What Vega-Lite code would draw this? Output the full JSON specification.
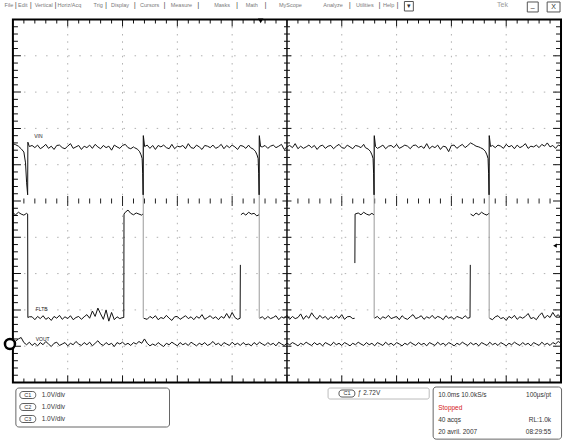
{
"$schema":"https://vega.github.io/schema/vega-lite/v6.json",
"width":564,"height":440,
"autosize":{"type":"fit","contains":"padding"},
"padding":0,
"background":"white",
"config":{"view":{"stroke":null},"axis":{"disable":true},"text":{"font":"Liberation Sans"}},
"datasets":{
"vin":[
{"t":0,"v":1.58},{"t":0.5,"v":1.55},{"t":1.0,"v":1.51},{"t":1.5,"v":1.44},{"t":2.0,"v":1.35},{"t":2.3,"v":1.05},{"t":2.5,"v":0.5},{"t":2.69,"v":0.17},{"t":2.73,"v":1.62},{"t":3.0,"v":1.5},
{"t":3.5,"v":1.53},{"t":4.0,"v":1.47},{"t":4.5,"v":1.54},{"t":5.0,"v":1.44},{"t":5.5,"v":1.49},{"t":6.0,"v":1.56},{"t":6.5,"v":1.45},{"t":7.0,"v":1.51},{"t":7.5,"v":1.42},{"t":8.0,"v":1.53},
{"t":8.5,"v":1.54},{"t":9.0,"v":1.47},{"t":9.5,"v":1.44},{"t":10.0,"v":1.51},{"t":10.5,"v":1.58},{"t":11.0,"v":1.45},{"t":11.5,"v":1.49},{"t":12.0,"v":1.53},{"t":12.5,"v":1.42},{"t":13.0,"v":1.51},
{"t":13.5,"v":1.47},{"t":14.0,"v":1.54},{"t":14.5,"v":1.45},{"t":15.0,"v":1.56},{"t":15.5,"v":1.49},{"t":16.0,"v":1.44},{"t":16.5,"v":1.53},{"t":17.0,"v":1.47},{"t":17.5,"v":1.51},{"t":18.0,"v":1.4},
{"t":18.5,"v":1.54},{"t":19.0,"v":1.49},{"t":19.5,"v":1.45},{"t":20.0,"v":1.53},{"t":20.5,"v":1.56},{"t":21.0,"v":1.47},{"t":21.5,"v":1.44},{"t":22.0,"v":1.49},
{"t":22.18,"v":1.47},{"t":22.68,"v":1.43},{"t":23.08,"v":1.37},{"t":23.38,"v":1.27},{"t":23.58,"v":1.17},{"t":23.68,"v":0.75},{"t":23.76,"v":0.17},{"t":23.8,"v":1.8},{"t":24.03,"v":1.5},
{"t":24.5,"v":1.54},{"t":25.0,"v":1.45},{"t":25.5,"v":1.53},{"t":26.0,"v":1.42},{"t":26.5,"v":1.53},{"t":27.0,"v":1.49},{"t":27.5,"v":1.54},{"t":28.0,"v":1.47},{"t":28.5,"v":1.44},{"t":29.0,"v":1.56},
{"t":29.5,"v":1.44},{"t":30.0,"v":1.51},{"t":30.5,"v":1.49},{"t":31.0,"v":1.53},{"t":31.5,"v":1.44},{"t":32.0,"v":1.58},{"t":32.5,"v":1.47},{"t":33.0,"v":1.45},{"t":33.5,"v":1.54},{"t":34.0,"v":1.49},
{"t":34.5,"v":1.42},{"t":35.0,"v":1.53},{"t":35.5,"v":1.51},{"t":36.0,"v":1.47},{"t":36.5,"v":1.54},{"t":37.0,"v":1.45},{"t":37.5,"v":1.49},{"t":38.0,"v":1.56},{"t":38.5,"v":1.44},{"t":39.0,"v":1.53},
{"t":39.5,"v":1.47},{"t":40.0,"v":1.54},{"t":40.5,"v":1.49},{"t":41.0,"v":1.42},{"t":41.5,"v":1.53},{"t":42.0,"v":1.51},{"t":42.5,"v":1.45},{"t":43.0,"v":1.54},
{"t":43.34,"v":1.47},{"t":43.84,"v":1.43},{"t":44.24,"v":1.37},{"t":44.54,"v":1.27},{"t":44.74,"v":1.17},{"t":44.84,"v":0.75},{"t":44.92,"v":0.17},{"t":44.96,"v":1.8},{"t":45.19,"v":1.5},
{"t":45.5,"v":1.49},{"t":46.0,"v":1.53},{"t":46.5,"v":1.45},{"t":47.0,"v":1.51},{"t":47.5,"v":1.54},{"t":48.0,"v":1.47},{"t":48.5,"v":1.51},{"t":49.0,"v":1.56},{"t":49.5,"v":1.42},{"t":50.0,"v":1.49},
{"t":50.5,"v":1.53},{"t":51.0,"v":1.47},{"t":51.5,"v":1.58},{"t":52.0,"v":1.44},{"t":52.5,"v":1.51},{"t":53.0,"v":1.45},{"t":53.5,"v":1.49},{"t":54.0,"v":1.54},{"t":54.5,"v":1.47},{"t":55.0,"v":1.53},
{"t":55.5,"v":1.42},{"t":56.0,"v":1.51},{"t":56.5,"v":1.54},{"t":57.0,"v":1.45},{"t":57.5,"v":1.51},{"t":58.0,"v":1.53},{"t":58.5,"v":1.44},{"t":59.0,"v":1.51},{"t":59.5,"v":1.56},{"t":60.0,"v":1.47},
{"t":60.5,"v":1.45},{"t":61.0,"v":1.54},{"t":61.5,"v":1.49},{"t":62.0,"v":1.44},{"t":62.5,"v":1.53},{"t":63.0,"v":1.51},{"t":63.5,"v":1.47},{"t":64.0,"v":1.56},
{"t":64.31,"v":1.47},{"t":64.81,"v":1.43},{"t":65.21,"v":1.37},{"t":65.51,"v":1.27},{"t":65.71,"v":1.17},{"t":65.81,"v":0.75},{"t":65.89,"v":0.17},{"t":65.93,"v":1.8},{"t":66.16,"v":1.5},
{"t":66.5,"v":1.45},{"t":67.0,"v":1.49},{"t":67.5,"v":1.54},{"t":68.0,"v":1.44},{"t":68.5,"v":1.51},{"t":69.0,"v":1.53},{"t":69.5,"v":1.47},{"t":70.0,"v":1.56},{"t":70.5,"v":1.45},{"t":71.0,"v":1.49},
{"t":71.5,"v":1.54},{"t":72.0,"v":1.51},{"t":72.5,"v":1.44},{"t":73.0,"v":1.53},{"t":73.5,"v":1.54},{"t":74.0,"v":1.47},{"t":74.5,"v":1.51},{"t":75.0,"v":1.45},{"t":75.5,"v":1.58},{"t":76.0,"v":1.44},
{"t":76.5,"v":1.51},{"t":77.0,"v":1.47},{"t":77.5,"v":1.54},{"t":78.0,"v":1.42},{"t":78.5,"v":1.51},{"t":79.0,"v":1.49},{"t":79.5,"v":1.36},{"t":80.0,"v":1.53},{"t":80.5,"v":1.54},{"t":81.0,"v":1.45},
{"t":81.5,"v":1.51},{"t":82.0,"v":1.56},{"t":82.5,"v":1.47},{"t":83.0,"v":1.53},{"t":83.5,"v":1.6},{"t":84.0,"v":1.56},{"t":84.5,"v":1.51},{"t":85.0,"v":1.49},
{"t":85.29,"v":1.47},{"t":85.79,"v":1.43},{"t":86.19,"v":1.37},{"t":86.49,"v":1.27},{"t":86.69,"v":1.17},{"t":86.79,"v":0.75},{"t":86.87,"v":0.17},{"t":86.91,"v":1.8},{"t":87.14,"v":1.5},
{"t":87.5,"v":1.53},{"t":88.0,"v":1.47},{"t":88.5,"v":1.54},{"t":89.0,"v":1.51},{"t":89.5,"v":1.45},{"t":90.0,"v":1.56},{"t":90.5,"v":1.49},{"t":91.0,"v":1.53},{"t":91.5,"v":1.44},{"t":92.0,"v":1.54},
{"t":92.5,"v":1.47},{"t":93.0,"v":1.51},{"t":93.5,"v":1.58},{"t":94.0,"v":1.45},{"t":94.5,"v":1.51},{"t":95.0,"v":1.49},{"t":95.5,"v":1.54},{"t":96.0,"v":1.47},{"t":96.5,"v":1.56},{"t":97.0,"v":1.51},
{"t":97.5,"v":1.6},{"t":98.0,"v":1.49},{"t":98.5,"v":1.53},{"t":99.0,"v":1.45},{"t":99.5,"v":1.54},{"t":100.0,"v":1.51}
],
"flt":[
{"t":0,"v":-0.33,"g":1},{"t":0.5,"v":-0.38,"g":1},{"t":1.0,"v":-0.31,"g":1},{"t":1.5,"v":-0.36,"g":1},{"t":2.0,"v":-0.39,"g":1},{"t":2.5,"v":-0.34,"g":1},{"t":2.69,"v":-0.36,"g":1},{"t":2.73,"v":-3.21,"g":1},{"t":3.0,"v":-3.19,"g":1},
{"t":3.5,"v":-3.19,"g":1},{"t":4.0,"v":-3.27,"g":1},{"t":4.5,"v":-3.18,"g":1},{"t":5.0,"v":-3.24,"g":1},{"t":5.5,"v":-3.16,"g":1},{"t":6.0,"v":-3.26,"g":1},{"t":6.5,"v":-3.21,"g":1},{"t":7.0,"v":-3.29,"g":1},{"t":7.5,"v":-3.18,"g":1},{"t":8.0,"v":-3.23,"g":1},
{"t":8.5,"v":-3.15,"g":1},{"t":9.0,"v":-3.26,"g":1},{"t":9.5,"v":-3.19,"g":1},{"t":10.0,"v":-3.24,"g":1},{"t":10.5,"v":-3.16,"g":1},{"t":11.0,"v":-3.27,"g":1},{"t":11.5,"v":-3.21,"g":1},{"t":12.0,"v":-3.18,"g":1},{"t":12.5,"v":-3.26,"g":1},{"t":13.0,"v":-3.19,"g":1},
{"t":13.5,"v":-3.13,"g":1},{"t":14.0,"v":-3.23,"g":1},{"t":14.5,"v":-3.03,"g":1},{"t":15.0,"v":-3.18,"g":1},{"t":15.5,"v":-2.95,"g":1},{"t":16.0,"v":-3.11,"g":1},{"t":16.5,"v":-3.26,"g":1},{"t":17.0,"v":-3.0,"g":1},{"t":17.5,"v":-3.31,"g":1},{"t":18.0,"v":-3.07,"g":1},
{"t":18.5,"v":-3.27,"g":1},{"t":19.0,"v":-3.19,"g":1},{"t":19.5,"v":-3.24,"g":1},{"t":20.0,"v":-3.21,"g":1},{"t":20.23,"v":-3.21,"g":1},{"t":20.27,"v":-0.36,"g":1},{"t":20.5,"v":-0.31,"g":1},{"t":21.0,"v":-0.25,"g":1},{"t":21.5,"v":-0.34,"g":1},{"t":22.0,"v":-0.38,"g":1},
{"t":22.5,"v":-0.33,"g":1},{"t":23.0,"v":-0.36,"g":1},{"t":23.5,"v":-0.39,"g":1},{"t":23.7,"v":-0.36,"g":1},
{"t":23.85,"v":-3.23,"g":2},{"t":24.5,"v":-3.26,"g":2},{"t":25.0,"v":-3.18,"g":2},{"t":25.5,"v":-3.23,"g":2},{"t":26.0,"v":-3.16,"g":2},{"t":26.5,"v":-3.27,"g":2},{"t":27.0,"v":-3.21,"g":2},{"t":27.5,"v":-3.24,"g":2},{"t":28.0,"v":-3.15,"g":2},{"t":28.5,"v":-3.23,"g":2},
{"t":29.0,"v":-3.29,"g":2},{"t":29.5,"v":-3.19,"g":2},{"t":30.0,"v":-3.18,"g":2},{"t":30.5,"v":-3.26,"g":2},{"t":31.0,"v":-3.21,"g":2},{"t":31.5,"v":-3.16,"g":2},{"t":32.0,"v":-3.24,"g":2},{"t":32.5,"v":-3.19,"g":2},{"t":33.0,"v":-3.27,"g":2},{"t":33.5,"v":-3.18,"g":2},
{"t":34.0,"v":-3.23,"g":2},{"t":34.5,"v":-3.13,"g":2},{"t":35.0,"v":-3.26,"g":2},{"t":35.5,"v":-3.21,"g":2},{"t":36.0,"v":-3.16,"g":2},{"t":36.5,"v":-3.24,"g":2},{"t":37.0,"v":-3.19,"g":2},{"t":37.5,"v":-3.27,"g":2},{"t":38.0,"v":-3.18,"g":2},{"t":38.5,"v":-3.23,"g":2},
{"t":39.0,"v":-3.1,"g":2},{"t":39.5,"v":-3.23,"g":2},{"t":40.0,"v":-3.07,"g":2},{"t":40.5,"v":-3.21,"g":2},{"t":41.0,"v":-3.26,"g":2},{"t":41.45,"v":-3.23,"g":2},{"t":41.5,"v":-1.76,"g":2},
{"t":41.6,"v":-0.38,"g":3},{"t":42.0,"v":-0.33,"g":3},{"t":42.5,"v":-0.39,"g":3},{"t":43.0,"v":-0.31,"g":3},{"t":43.5,"v":-0.36,"g":3},{"t":44.0,"v":-0.34,"g":3},{"t":44.5,"v":-0.41,"g":3},{"t":44.88,"v":-0.38,"g":3},
{"t":45.0,"v":-3.23,"g":4},{"t":45.5,"v":-3.19,"g":4},{"t":46.0,"v":-3.26,"g":4},{"t":46.5,"v":-3.18,"g":4},{"t":47.0,"v":-3.24,"g":4},{"t":47.5,"v":-3.21,"g":4},{"t":48.0,"v":-3.16,"g":4},{"t":48.5,"v":-3.27,"g":4},{"t":49.0,"v":-3.19,"g":4},{"t":49.5,"v":-3.23,"g":4},
{"t":50.0,"v":-3.15,"g":4},{"t":50.5,"v":-3.26,"g":4},{"t":51.0,"v":-3.18,"g":4},{"t":51.5,"v":-3.24,"g":4},{"t":52.0,"v":-3.21,"g":4},{"t":52.5,"v":-3.11,"g":4},{"t":53.0,"v":-3.26,"g":4},{"t":53.5,"v":-3.16,"g":4},{"t":54.0,"v":-3.23,"g":4},{"t":54.5,"v":-3.08,"g":4},
{"t":55.0,"v":-3.19,"g":4},{"t":55.5,"v":-3.26,"g":4},{"t":56.0,"v":-3.15,"g":4},{"t":56.5,"v":-3.23,"g":4},{"t":57.0,"v":-3.18,"g":4},{"t":57.5,"v":-3.27,"g":4},{"t":58.0,"v":-3.19,"g":4},{"t":58.5,"v":-3.24,"g":4},{"t":59.0,"v":-3.16,"g":4},{"t":59.5,"v":-3.23,"g":4},
{"t":60.0,"v":-3.13,"g":4},{"t":60.5,"v":-3.26,"g":4},{"t":61.0,"v":-3.19,"g":4},{"t":61.5,"v":-3.18,"g":4},{"t":62.0,"v":-3.24,"g":4},{"t":62.35,"v":-3.23,"g":4},
{"t":62.39,"v":-1.71,"g":5},{"t":62.43,"v":-0.36,"g":5},{"t":63.0,"v":-0.33,"g":5},{"t":63.5,"v":-0.38,"g":5},{"t":64.0,"v":-0.31,"g":5},{"t":64.5,"v":-0.36,"g":5},{"t":65.0,"v":-0.39,"g":5},{"t":65.5,"v":-0.34,"g":5},{"t":65.85,"v":-0.38,"g":5},
{"t":65.97,"v":-3.23,"g":6},{"t":66.5,"v":-3.18,"g":6},{"t":67.0,"v":-3.26,"g":6},{"t":67.5,"v":-3.19,"g":6},{"t":68.0,"v":-3.23,"g":6},{"t":68.5,"v":-3.15,"g":6},{"t":69.0,"v":-3.24,"g":6},{"t":69.5,"v":-3.21,"g":6},{"t":70.0,"v":-3.18,"g":6},{"t":70.5,"v":-3.27,"g":6},
{"t":71.0,"v":-3.16,"g":6},{"t":71.5,"v":-3.23,"g":6},{"t":72.0,"v":-3.26,"g":6},{"t":72.5,"v":-3.19,"g":6},{"t":73.0,"v":-3.13,"g":6},{"t":73.5,"v":-3.24,"g":6},{"t":74.0,"v":-3.21,"g":6},{"t":74.5,"v":-3.16,"g":6},{"t":75.0,"v":-3.26,"g":6},{"t":75.5,"v":-3.19,"g":6},
{"t":76.0,"v":-3.23,"g":6},{"t":76.5,"v":-3.15,"g":6},{"t":77.0,"v":-3.24,"g":6},{"t":77.5,"v":-3.18,"g":6},{"t":78.0,"v":-3.21,"g":6},{"t":78.5,"v":-3.27,"g":6},{"t":79.0,"v":-3.16,"g":6},{"t":79.5,"v":-3.23,"g":6},{"t":80.0,"v":-3.19,"g":6},{"t":80.5,"v":-3.26,"g":6},
{"t":81.0,"v":-3.18,"g":6},{"t":81.5,"v":-3.21,"g":6},{"t":82.0,"v":-3.24,"g":6},{"t":82.5,"v":-3.16,"g":6},{"t":83.0,"v":-3.23,"g":6},{"t":83.4,"v":-3.21,"g":6},{"t":83.45,"v":-1.76,"g":6},
{"t":83.5,"v":-0.36,"g":7},{"t":84.0,"v":-0.41,"g":7},{"t":84.5,"v":-0.33,"g":7},{"t":85.0,"v":-0.38,"g":7},{"t":85.5,"v":-0.31,"g":7},{"t":86.0,"v":-0.36,"g":7},{"t":86.5,"v":-0.39,"g":7},{"t":86.83,"v":-0.34,"g":7},
{"t":86.95,"v":-3.23,"g":8},{"t":87.5,"v":-3.27,"g":8},{"t":88.0,"v":-3.19,"g":8},{"t":88.5,"v":-3.16,"g":8},{"t":89.0,"v":-3.24,"g":8},{"t":89.5,"v":-3.21,"g":8},{"t":90.0,"v":-3.29,"g":8},{"t":90.5,"v":-3.18,"g":8},{"t":91.0,"v":-3.23,"g":8},{"t":91.5,"v":-3.15,"g":8},
{"t":92.0,"v":-3.26,"g":8},{"t":92.5,"v":-3.19,"g":8},{"t":93.0,"v":-3.23,"g":8},{"t":93.5,"v":-3.18,"g":8},{"t":94.0,"v":-3.1,"g":8},{"t":94.5,"v":-3.24,"g":8},{"t":95.0,"v":-3.21,"g":8},{"t":95.5,"v":-3.27,"g":8},{"t":96.0,"v":-3.16,"g":8},{"t":96.5,"v":-3.08,"g":8},
{"t":97.0,"v":-3.23,"g":8},{"t":97.5,"v":-3.15,"g":8},{"t":98.0,"v":-3.21,"g":8},{"t":98.5,"v":-3.07,"g":8},{"t":99.0,"v":-3.19,"g":8},{"t":99.5,"v":-3.13,"g":8},{"t":100.0,"v":-3.23,"g":8}
],
"vout":[
{"t":0.4,"v":-3.87},{"t":1.0,"v":-3.8},{"t":1.5,"v":-3.76},{"t":2.0,"v":-3.9},{"t":2.5,"v":-3.96},{"t":3.0,"v":-3.89},{"t":3.5,"v":-3.98},{"t":4.0,"v":-3.92},{"t":4.5,"v":-3.99},{"t":5.0,"v":-3.9},
{"t":5.5,"v":-3.96},{"t":6.0,"v":-3.87},{"t":6.5,"v":-3.94},{"t":7.0,"v":-4.01},{"t":7.5,"v":-3.92},{"t":8.0,"v":-3.89},{"t":8.5,"v":-3.98},{"t":9.0,"v":-3.94},{"t":9.5,"v":-3.9},{"t":10.0,"v":-3.99},
{"t":10.5,"v":-3.92},{"t":11.0,"v":-3.96},{"t":11.5,"v":-3.87},{"t":12.0,"v":-3.94},{"t":12.5,"v":-3.98},{"t":13.0,"v":-3.9},{"t":13.5,"v":-3.96},{"t":14.0,"v":-3.89},{"t":14.5,"v":-3.99},{"t":15.0,"v":-3.92},
{"t":15.5,"v":-3.85},{"t":16.0,"v":-3.94},{"t":16.5,"v":-3.98},{"t":17.0,"v":-3.9},{"t":17.5,"v":-3.96},{"t":18.0,"v":-3.92},{"t":18.5,"v":-4.01},{"t":19.0,"v":-3.9},{"t":19.5,"v":-3.94},{"t":20.0,"v":-3.89},
{"t":20.5,"v":-3.96},{"t":21.0,"v":-3.92},{"t":21.5,"v":-3.98},{"t":22.0,"v":-3.9},{"t":22.5,"v":-3.94},{"t":23.0,"v":-3.87},{"t":23.5,"v":-3.92},{"t":24.0,"v":-3.8},{"t":24.5,"v":-3.92},{"t":25.0,"v":-3.99},
{"t":25.5,"v":-3.94},{"t":26.0,"v":-3.98},{"t":26.5,"v":-3.9},{"t":27.0,"v":-3.96},{"t":27.5,"v":-4.01},{"t":28.0,"v":-3.92},{"t":28.5,"v":-3.96},{"t":29.0,"v":-3.89},{"t":29.5,"v":-3.94},{"t":30.0,"v":-3.99},
{"t":30.5,"v":-3.9},{"t":31.0,"v":-3.96},{"t":31.5,"v":-3.92},{"t":32.0,"v":-3.98},{"t":32.5,"v":-3.89},{"t":33.0,"v":-3.94},{"t":33.5,"v":-3.99},{"t":34.0,"v":-3.92},{"t":34.5,"v":-3.96},{"t":35.0,"v":-3.9},
{"t":35.5,"v":-3.98},{"t":36.0,"v":-3.94},{"t":36.5,"v":-3.87},{"t":37.0,"v":-3.96},{"t":37.5,"v":-3.92},{"t":38.0,"v":-3.99},{"t":38.5,"v":-3.9},{"t":39.0,"v":-3.94},{"t":39.5,"v":-3.98},{"t":40.0,"v":-3.89},
{"t":40.5,"v":-3.96},{"t":41.0,"v":-3.92},{"t":41.5,"v":-3.98},{"t":42.0,"v":-3.9},{"t":42.5,"v":-3.96},{"t":43.0,"v":-3.94},{"t":43.5,"v":-3.99},{"t":44.0,"v":-3.9},{"t":44.5,"v":-3.96},{"t":45.0,"v":-3.89},
{"t":45.5,"v":-3.94},{"t":46.0,"v":-3.98},{"t":46.5,"v":-3.9},{"t":47.0,"v":-3.96},{"t":47.5,"v":-3.92},{"t":48.0,"v":-3.99},{"t":48.5,"v":-3.89},{"t":49.0,"v":-3.94},{"t":49.5,"v":-3.98},{"t":50.0,"v":-3.92},
{"t":50.5,"v":-3.96},{"t":51.0,"v":-3.9},{"t":51.5,"v":-3.94},{"t":52.0,"v":-3.99},{"t":52.5,"v":-3.92},{"t":53.0,"v":-3.96},{"t":53.5,"v":-3.89},{"t":54.0,"v":-3.94},{"t":54.5,"v":-3.98},{"t":55.0,"v":-3.9},
{"t":55.5,"v":-3.96},{"t":56.0,"v":-3.92},{"t":56.5,"v":-3.99},{"t":57.0,"v":-3.9},{"t":57.5,"v":-3.94},{"t":58.0,"v":-3.98},{"t":58.5,"v":-3.89},{"t":59.0,"v":-3.96},{"t":59.5,"v":-3.92},{"t":60.0,"v":-3.98},
{"t":60.5,"v":-3.9},{"t":61.0,"v":-3.94},{"t":61.5,"v":-3.99},{"t":62.0,"v":-3.92},{"t":62.5,"v":-3.96},{"t":63.0,"v":-3.89},{"t":63.5,"v":-3.94},{"t":64.0,"v":-3.98},{"t":64.5,"v":-3.9},{"t":65.0,"v":-3.96},
{"t":65.5,"v":-3.92},{"t":66.0,"v":-3.99},{"t":66.5,"v":-3.9},{"t":67.0,"v":-3.94},{"t":67.5,"v":-3.98},{"t":68.0,"v":-3.89},{"t":68.5,"v":-3.96},{"t":69.0,"v":-3.92},{"t":69.5,"v":-3.98},{"t":70.0,"v":-3.9},
{"t":70.5,"v":-3.94},{"t":71.0,"v":-3.99},{"t":71.5,"v":-3.92},{"t":72.0,"v":-3.96},{"t":72.5,"v":-3.89},{"t":73.0,"v":-3.94},{"t":73.5,"v":-3.98},{"t":74.0,"v":-3.9},{"t":74.5,"v":-3.96},{"t":75.0,"v":-3.92},
{"t":75.5,"v":-3.99},{"t":76.0,"v":-3.9},{"t":76.5,"v":-3.94},{"t":77.0,"v":-3.98},{"t":77.5,"v":-3.89},{"t":78.0,"v":-3.96},{"t":78.5,"v":-3.92},{"t":79.0,"v":-3.98},{"t":79.5,"v":-3.9},{"t":80.0,"v":-3.94},
{"t":80.5,"v":-3.99},{"t":81.0,"v":-3.92},{"t":81.5,"v":-3.96},{"t":82.0,"v":-3.89},{"t":82.5,"v":-3.94},{"t":83.0,"v":-3.98},{"t":83.5,"v":-3.9},{"t":84.0,"v":-3.96},{"t":84.5,"v":-3.92},{"t":85.0,"v":-3.99},
{"t":85.5,"v":-3.9},{"t":86.0,"v":-3.94},{"t":86.5,"v":-3.98},{"t":87.0,"v":-3.89},{"t":87.5,"v":-3.96},{"t":88.0,"v":-3.92},{"t":88.5,"v":-3.98},{"t":89.0,"v":-3.9},{"t":89.5,"v":-3.94},{"t":90.0,"v":-3.99},
{"t":90.5,"v":-3.92},{"t":91.0,"v":-3.96},{"t":91.5,"v":-3.89},{"t":92.0,"v":-3.94},{"t":92.5,"v":-3.98},{"t":93.0,"v":-3.9},{"t":93.5,"v":-3.96},{"t":94.0,"v":-3.92},{"t":94.5,"v":-3.99},{"t":95.0,"v":-3.9},
{"t":95.5,"v":-3.94},{"t":96.0,"v":-3.98},{"t":96.5,"v":-3.89},{"t":97.0,"v":-3.96},{"t":97.5,"v":-3.92},{"t":98.0,"v":-3.98},{"t":98.5,"v":-3.9},{"t":99.0,"v":-3.94},{"t":99.5,"v":-3.87},{"t":100.0,"v":-3.92}
],
"edges":[{"t":23.78,"v":-3.22,"v2":1.8},{"t":44.94,"v":-3.22,"v2":1.76},{"t":65.91,"v":-3.22,"v2":1.76},{"t":86.89,"v":-3.22,"v2":1.8}],
"grid":[
{"t":10,"v":5,"v2":-5,"k":"v"},{"t":20,"v":5,"v2":-5,"k":"v"},{"t":30,"v":5,"v2":-5,"k":"v"},{"t":40,"v":5,"v2":-5,"k":"v"},{"t":60,"v":5,"v2":-5,"k":"v"},{"t":70,"v":5,"v2":-5,"k":"v"},{"t":80,"v":5,"v2":-5,"k":"v"},{"t":90,"v":5,"v2":-5,"k":"v"},
{"t":50,"v":5,"v2":-5,"k":"c"},
{"t":0,"t2":100,"v":-4,"k":"h"},{"t":0,"t2":100,"v":-3,"k":"h"},{"t":0,"t2":100,"v":-2,"k":"h"},{"t":0,"t2":100,"v":-1,"k":"h"},{"t":0,"t2":100,"v":1,"k":"h"},{"t":0,"t2":100,"v":2,"k":"h"},{"t":0,"t2":100,"v":3,"k":"h"},{"t":0,"t2":100,"v":4,"k":"h"}
],
"tx":[
{"t":2,"v":5,"m":0},{"t":2,"v":-5,"m":0},{"t":2,"v":0,"m":0},{"t":4,"v":5,"m":0},{"t":4,"v":-5,"m":0},{"t":4,"v":0,"m":0},{"t":6,"v":5,"m":0},{"t":6,"v":-5,"m":0},{"t":6,"v":0,"m":0},{"t":8,"v":5,"m":0},{"t":8,"v":-5,"m":0},{"t":8,"v":0,"m":0},
{"t":10,"v":5,"m":1},{"t":10,"v":-5,"m":1},{"t":10,"v":0,"m":1},{"t":12,"v":5,"m":0},{"t":12,"v":-5,"m":0},{"t":12,"v":0,"m":0},{"t":14,"v":5,"m":0},{"t":14,"v":-5,"m":0},{"t":14,"v":0,"m":0},{"t":16,"v":5,"m":0},{"t":16,"v":-5,"m":0},{"t":16,"v":0,"m":0},{"t":18,"v":5,"m":0},{"t":18,"v":-5,"m":0},{"t":18,"v":0,"m":0},
{"t":20,"v":5,"m":1},{"t":20,"v":-5,"m":1},{"t":20,"v":0,"m":1},{"t":22,"v":5,"m":0},{"t":22,"v":-5,"m":0},{"t":22,"v":0,"m":0},{"t":24,"v":5,"m":0},{"t":24,"v":-5,"m":0},{"t":24,"v":0,"m":0},{"t":26,"v":5,"m":0},{"t":26,"v":-5,"m":0},{"t":26,"v":0,"m":0},{"t":28,"v":5,"m":0},{"t":28,"v":-5,"m":0},{"t":28,"v":0,"m":0},
{"t":30,"v":5,"m":1},{"t":30,"v":-5,"m":1},{"t":30,"v":0,"m":1},{"t":32,"v":5,"m":0},{"t":32,"v":-5,"m":0},{"t":32,"v":0,"m":0},{"t":34,"v":5,"m":0},{"t":34,"v":-5,"m":0},{"t":34,"v":0,"m":0},{"t":36,"v":5,"m":0},{"t":36,"v":-5,"m":0},{"t":36,"v":0,"m":0},{"t":38,"v":5,"m":0},{"t":38,"v":-5,"m":0},{"t":38,"v":0,"m":0},
{"t":40,"v":5,"m":1},{"t":40,"v":-5,"m":1},{"t":40,"v":0,"m":1},{"t":42,"v":5,"m":0},{"t":42,"v":-5,"m":0},{"t":42,"v":0,"m":0},{"t":44,"v":5,"m":0},{"t":44,"v":-5,"m":0},{"t":44,"v":0,"m":0},{"t":46,"v":5,"m":0},{"t":46,"v":-5,"m":0},{"t":46,"v":0,"m":0},{"t":48,"v":5,"m":0},{"t":48,"v":-5,"m":0},{"t":48,"v":0,"m":0},
{"t":50,"v":5,"m":1},{"t":50,"v":-5,"m":1},{"t":50,"v":0,"m":1},{"t":52,"v":5,"m":0},{"t":52,"v":-5,"m":0},{"t":52,"v":0,"m":0},{"t":54,"v":5,"m":0},{"t":54,"v":-5,"m":0},{"t":54,"v":0,"m":0},{"t":56,"v":5,"m":0},{"t":56,"v":-5,"m":0},{"t":56,"v":0,"m":0},{"t":58,"v":5,"m":0},{"t":58,"v":-5,"m":0},{"t":58,"v":0,"m":0},
{"t":60,"v":5,"m":1},{"t":60,"v":-5,"m":1},{"t":60,"v":0,"m":1},{"t":62,"v":5,"m":0},{"t":62,"v":-5,"m":0},{"t":62,"v":0,"m":0},{"t":64,"v":5,"m":0},{"t":64,"v":-5,"m":0},{"t":64,"v":0,"m":0},{"t":66,"v":5,"m":0},{"t":66,"v":-5,"m":0},{"t":66,"v":0,"m":0},{"t":68,"v":5,"m":0},{"t":68,"v":-5,"m":0},{"t":68,"v":0,"m":0},
{"t":70,"v":5,"m":1},{"t":70,"v":-5,"m":1},{"t":70,"v":0,"m":1},{"t":72,"v":5,"m":0},{"t":72,"v":-5,"m":0},{"t":72,"v":0,"m":0},{"t":74,"v":5,"m":0},{"t":74,"v":-5,"m":0},{"t":74,"v":0,"m":0},{"t":76,"v":5,"m":0},{"t":76,"v":-5,"m":0},{"t":76,"v":0,"m":0},{"t":78,"v":5,"m":0},{"t":78,"v":-5,"m":0},{"t":78,"v":0,"m":0},
{"t":80,"v":5,"m":1},{"t":80,"v":-5,"m":1},{"t":80,"v":0,"m":1},{"t":82,"v":5,"m":0},{"t":82,"v":-5,"m":0},{"t":82,"v":0,"m":0},{"t":84,"v":5,"m":0},{"t":84,"v":-5,"m":0},{"t":84,"v":0,"m":0},{"t":86,"v":5,"m":0},{"t":86,"v":-5,"m":0},{"t":86,"v":0,"m":0},{"t":88,"v":5,"m":0},{"t":88,"v":-5,"m":0},{"t":88,"v":0,"m":0},
{"t":90,"v":5,"m":1},{"t":90,"v":-5,"m":1},{"t":90,"v":0,"m":1},{"t":92,"v":5,"m":0},{"t":92,"v":-5,"m":0},{"t":92,"v":0,"m":0},{"t":94,"v":5,"m":0},{"t":94,"v":-5,"m":0},{"t":94,"v":0,"m":0},{"t":96,"v":5,"m":0},{"t":96,"v":-5,"m":0},{"t":96,"v":0,"m":0},{"t":98,"v":5,"m":0},{"t":98,"v":-5,"m":0},{"t":98,"v":0,"m":0}
],
"ty":[
{"v":-4.8,"t":0,"m":0},{"v":-4.8,"t":100,"m":0},{"v":-4.8,"t":50,"m":0},{"v":-4.6,"t":0,"m":0},{"v":-4.6,"t":100,"m":0},{"v":-4.6,"t":50,"m":0},{"v":-4.4,"t":0,"m":0},{"v":-4.4,"t":100,"m":0},{"v":-4.4,"t":50,"m":0},{"v":-4.2,"t":0,"m":0},{"v":-4.2,"t":100,"m":0},{"v":-4.2,"t":50,"m":0},
{"v":-4,"t":0,"m":1},{"v":-4,"t":100,"m":1},{"v":-4,"t":50,"m":1},{"v":-3.8,"t":0,"m":0},{"v":-3.8,"t":100,"m":0},{"v":-3.8,"t":50,"m":0},{"v":-3.6,"t":0,"m":0},{"v":-3.6,"t":100,"m":0},{"v":-3.6,"t":50,"m":0},{"v":-3.4,"t":0,"m":0},{"v":-3.4,"t":100,"m":0},{"v":-3.4,"t":50,"m":0},{"v":-3.2,"t":0,"m":0},{"v":-3.2,"t":100,"m":0},{"v":-3.2,"t":50,"m":0},
{"v":-3,"t":0,"m":1},{"v":-3,"t":100,"m":1},{"v":-3,"t":50,"m":1},{"v":-2.8,"t":0,"m":0},{"v":-2.8,"t":100,"m":0},{"v":-2.8,"t":50,"m":0},{"v":-2.6,"t":0,"m":0},{"v":-2.6,"t":100,"m":0},{"v":-2.6,"t":50,"m":0},{"v":-2.4,"t":0,"m":0},{"v":-2.4,"t":100,"m":0},{"v":-2.4,"t":50,"m":0},{"v":-2.2,"t":0,"m":0},{"v":-2.2,"t":100,"m":0},{"v":-2.2,"t":50,"m":0},
{"v":-2,"t":0,"m":1},{"v":-2,"t":100,"m":1},{"v":-2,"t":50,"m":1},{"v":-1.8,"t":0,"m":0},{"v":-1.8,"t":100,"m":0},{"v":-1.8,"t":50,"m":0},{"v":-1.6,"t":0,"m":0},{"v":-1.6,"t":100,"m":0},{"v":-1.6,"t":50,"m":0},{"v":-1.4,"t":0,"m":0},{"v":-1.4,"t":100,"m":0},{"v":-1.4,"t":50,"m":0},{"v":-1.2,"t":0,"m":0},{"v":-1.2,"t":100,"m":0},{"v":-1.2,"t":50,"m":0},
{"v":-1,"t":0,"m":1},{"v":-1,"t":100,"m":1},{"v":-1,"t":50,"m":1},{"v":-0.8,"t":0,"m":0},{"v":-0.8,"t":100,"m":0},{"v":-0.8,"t":50,"m":0},{"v":-0.6,"t":0,"m":0},{"v":-0.6,"t":100,"m":0},{"v":-0.6,"t":50,"m":0},{"v":-0.4,"t":0,"m":0},{"v":-0.4,"t":100,"m":0},{"v":-0.4,"t":50,"m":0},{"v":-0.2,"t":0,"m":0},{"v":-0.2,"t":100,"m":0},{"v":-0.2,"t":50,"m":0},
{"v":0,"t":0,"m":1},{"v":0,"t":100,"m":1},{"v":0,"t":50,"m":1},{"v":0.2,"t":0,"m":0},{"v":0.2,"t":100,"m":0},{"v":0.2,"t":50,"m":0},{"v":0.4,"t":0,"m":0},{"v":0.4,"t":100,"m":0},{"v":0.4,"t":50,"m":0},{"v":0.6,"t":0,"m":0},{"v":0.6,"t":100,"m":0},{"v":0.6,"t":50,"m":0},{"v":0.8,"t":0,"m":0},{"v":0.8,"t":100,"m":0},{"v":0.8,"t":50,"m":0},
{"v":1,"t":0,"m":1},{"v":1,"t":100,"m":1},{"v":1,"t":50,"m":1},{"v":1.2,"t":0,"m":0},{"v":1.2,"t":100,"m":0},{"v":1.2,"t":50,"m":0},{"v":1.4,"t":0,"m":0},{"v":1.4,"t":100,"m":0},{"v":1.4,"t":50,"m":0},{"v":1.6,"t":0,"m":0},{"v":1.6,"t":100,"m":0},{"v":1.6,"t":50,"m":0},{"v":1.8,"t":0,"m":0},{"v":1.8,"t":100,"m":0},{"v":1.8,"t":50,"m":0},
{"v":2,"t":0,"m":1},{"v":2,"t":100,"m":1},{"v":2,"t":50,"m":1},{"v":2.2,"t":0,"m":0},{"v":2.2,"t":100,"m":0},{"v":2.2,"t":50,"m":0},{"v":2.4,"t":0,"m":0},{"v":2.4,"t":100,"m":0},{"v":2.4,"t":50,"m":0},{"v":2.6,"t":0,"m":0},{"v":2.6,"t":100,"m":0},{"v":2.6,"t":50,"m":0},{"v":2.8,"t":0,"m":0},{"v":2.8,"t":100,"m":0},{"v":2.8,"t":50,"m":0},
{"v":3,"t":0,"m":1},{"v":3,"t":100,"m":1},{"v":3,"t":50,"m":1},{"v":3.2,"t":0,"m":0},{"v":3.2,"t":100,"m":0},{"v":3.2,"t":50,"m":0},{"v":3.4,"t":0,"m":0},{"v":3.4,"t":100,"m":0},{"v":3.4,"t":50,"m":0},{"v":3.6,"t":0,"m":0},{"v":3.6,"t":100,"m":0},{"v":3.6,"t":50,"m":0},{"v":3.8,"t":0,"m":0},{"v":3.8,"t":100,"m":0},{"v":3.8,"t":50,"m":0},
{"v":4,"t":0,"m":1},{"v":4,"t":100,"m":1},{"v":4,"t":50,"m":1},{"v":4.2,"t":0,"m":0},{"v":4.2,"t":100,"m":0},{"v":4.2,"t":50,"m":0},{"v":4.4,"t":0,"m":0},{"v":4.4,"t":100,"m":0},{"v":4.4,"t":50,"m":0},{"v":4.6,"t":0,"m":0},{"v":4.6,"t":100,"m":0},{"v":4.6,"t":50,"m":0},{"v":4.8,"t":0,"m":0},{"v":4.8,"t":100,"m":0},{"v":4.8,"t":50,"m":0}
],
"boxes":[
{"t":0.54,"t2":28.57,"v":-5.152,"v2":-6.226,"k":"panel"},
{"t":76.67,"t2":100.1,"v":-5.124,"v2":-6.56,"k":"panel"},
{"t":57.5,"t2":75.95,"v":-5.152,"v2":-5.455,"k":"trig"},
{"t":1.27,"t2":4.16,"v":-5.248,"v2":-5.441,"k":"badge"},
{"t":1.27,"t2":4.16,"v":-5.579,"v2":-5.771,"k":"badge"},
{"t":1.27,"t2":4.16,"v":-5.909,"v2":-6.102,"k":"badge"},
{"t":59.49,"t2":62.39,"v":-5.207,"v2":-5.4,"k":"badge"},
{"t":71.43,"t2":73.06,"v":5.496,"v2":5.234,"k":"btn"},
{"t":93.85,"t2":95.84,"v":5.482,"v2":5.207,"k":"btn"},
{"t":97.47,"t2":99.82,"v":5.482,"v2":5.207,"k":"btn"}
],
"labels":[
{"t":-0.72,"v":5.386,"s":"File","k":"m"},{"t":0.54,"v":5.386,"s":"|","k":"sep"},
{"t":1.81,"v":5.386,"s":"Edit","k":"m"},{"t":3.25,"v":5.386,"s":"|","k":"sep"},
{"t":5.61,"v":5.386,"s":"Vertical","k":"m"},{"t":7.78,"v":5.386,"s":"|","k":"sep"},
{"t":10.31,"v":5.386,"s":"Horiz/Acq","k":"m"},
{"t":15.55,"v":5.386,"s":"Trig","k":"m"},{"t":17.0,"v":5.386,"s":"|","k":"sep"},
{"t":19.53,"v":5.386,"s":"Display","k":"m"},{"t":22.24,"v":5.386,"s":"|","k":"sep"},
{"t":24.95,"v":5.386,"s":"Cursors","k":"m"},{"t":27.67,"v":5.386,"s":"|","k":"sep"},
{"t":30.74,"v":5.386,"s":"Measure","k":"m"},{"t":33.82,"v":5.386,"s":"|","k":"sep"},
{"t":38.16,"v":5.386,"s":"Masks","k":"m"},{"t":40.87,"v":5.386,"s":"|","k":"sep"},
{"t":43.58,"v":5.386,"s":"Math","k":"m"},{"t":46.11,"v":5.386,"s":"|","k":"sep"},
{"t":50.63,"v":5.386,"s":"MyScope","k":"m"},
{"t":58.41,"v":5.386,"s":"Analyze","k":"m"},{"t":61.48,"v":5.386,"s":"|","k":"sep"},
{"t":64.2,"v":5.386,"s":"Utilities","k":"m"},{"t":66.91,"v":5.386,"s":"|","k":"sep"},
{"t":68.54,"v":5.386,"s":"Help","k":"m"},{"t":70.16,"v":5.386,"s":"|","k":"sep"},
{"t":72.24,"v":5.37,"s":"▾","k":"btn"},
{"t":89.33,"v":5.386,"s":"Tek","k":"tek"},
{"t":94.85,"v":5.4,"s":"_","k":"btn"},
{"t":98.64,"v":5.35,"s":"X","k":"btn"},
{"t":3.9,"v":1.79,"s":"VIN","k":"tr"},
{"t":4.16,"v":-2.975,"s":"FLTB","k":"tr"},
{"t":4.16,"v":-3.8,"s":"VOUT","k":"tr"},
{"t":2.71,"v":-5.344,"s":"C1","k":"b"},
{"t":2.71,"v":-5.675,"s":"C2","k":"b"},
{"t":2.71,"v":-6.006,"s":"C3","k":"b"},
{"t":60.94,"v":-5.303,"s":"C1","k":"b"},
{"t":5.24,"v":-5.344,"s":"1.0V/div","k":"pl"},
{"t":5.24,"v":-5.675,"s":"1.0V/div","k":"pl"},
{"t":5.24,"v":-6.006,"s":"1.0V/div","k":"pl"},
{"t":62.93,"v":-5.303,"s":"ƒ 2.72V","k":"pl"},
{"t":77.58,"v":-5.344,"s":"10.0ms  10.0kS/s","k":"pl"},
{"t":98.19,"v":-5.344,"s":"100µs/pt","k":"pr"},
{"t":77.58,"v":-5.702,"s":"Stopped","k":"red"},
{"t":77.58,"v":-6.033,"s":"40 acqs","k":"pl"},
{"t":98.19,"v":-6.033,"s":"RL:1.0k","k":"pr"},
{"t":77.58,"v":-6.364,"s":"20 avril. 2007","k":"pl"},
{"t":98.19,"v":-6.364,"s":"08:29:55","k":"pr"}
],
"pts":[{"t":-0.54,"v":-3.94,"k":"ch"},{"t":45.2,"v":4.96,"k":"trigpos"},{"t":98.9,"v":-1.23,"k":"triglvl"}]
},
"encoding":{
"x":{"field":"t","type":"quantitative","scale":{"domain":[-1.808,100.18],"nice":false,"zero":false},"axis":null},
"y":{"field":"v","type":"quantitative","scale":{"domain":[-6.584,5.537],"nice":false,"zero":false},"axis":null}
},
"layer":[
{"data":{"name":"grid"},"transform":[{"filter":"datum.k == 'v'"}],"mark":{"type":"rule","color":"#b0b0b0","strokeWidth":1,"strokeDash":[1.5,5.76]},"encoding":{"y2":{"field":"v2"}}},
{"data":{"name":"grid"},"transform":[{"filter":"datum.k == 'h'"}],"mark":{"type":"rule","color":"#b0b0b0","strokeWidth":1,"strokeDash":[1.5,9.56]},"encoding":{"x2":{"field":"t2"}}},
{"data":{"name":"grid"},"transform":[{"filter":"datum.k == 'c'"}],"mark":{"type":"rule","color":"#111","strokeWidth":1.5},"encoding":{"y2":{"field":"v2"}}},
{"data":{"name":"tx"},"transform":[{"filter":"datum.v == 5 && datum.m == 0"}],"mark":{"type":"tick","orient":"vertical","size":4,"thickness":1,"yOffset":2,"color":"#111","opacity":1}},
{"data":{"name":"tx"},"transform":[{"filter":"datum.v == 5 && datum.m == 1"}],"mark":{"type":"tick","orient":"vertical","size":7,"thickness":1,"yOffset":3.5,"color":"#111","opacity":1}},
{"data":{"name":"tx"},"transform":[{"filter":"datum.v == -5 && datum.m == 0"}],"mark":{"type":"tick","orient":"vertical","size":4,"thickness":1,"yOffset":-2,"color":"#111","opacity":1}},
{"data":{"name":"tx"},"transform":[{"filter":"datum.v == -5 && datum.m == 1"}],"mark":{"type":"tick","orient":"vertical","size":7,"thickness":1,"yOffset":-3.5,"color":"#111","opacity":1}},
{"data":{"name":"tx"},"transform":[{"filter":"datum.v == 0 && datum.m == 0"}],"mark":{"type":"tick","orient":"vertical","size":5,"thickness":1,"color":"#222","opacity":1}},
{"data":{"name":"tx"},"transform":[{"filter":"datum.v == 0 && datum.m == 1"}],"mark":{"type":"tick","orient":"vertical","size":10,"thickness":1,"color":"#222","opacity":1}},
{"data":{"name":"ty"},"transform":[{"filter":"datum.t == 0 && datum.m == 0"}],"mark":{"type":"tick","orient":"horizontal","size":5,"thickness":1,"xOffset":2.5,"color":"#111","opacity":1}},
{"data":{"name":"ty"},"transform":[{"filter":"datum.t == 0 && datum.m == 1"}],"mark":{"type":"tick","orient":"horizontal","size":8,"thickness":1,"xOffset":4,"color":"#111","opacity":1}},
{"data":{"name":"ty"},"transform":[{"filter":"datum.t == 100 && datum.m == 0"}],"mark":{"type":"tick","orient":"horizontal","size":5,"thickness":1,"xOffset":-2.5,"color":"#111","opacity":1}},
{"data":{"name":"ty"},"transform":[{"filter":"datum.t == 100 && datum.m == 1"}],"mark":{"type":"tick","orient":"horizontal","size":8,"thickness":1,"xOffset":-4,"color":"#111","opacity":1}},
{"data":{"name":"ty"},"transform":[{"filter":"datum.t == 50 && datum.m == 0"}],"mark":{"type":"tick","orient":"horizontal","size":6,"thickness":1,"color":"#111","opacity":1}},
{"data":{"name":"ty"},"transform":[{"filter":"datum.t == 50 && datum.m == 1"}],"mark":{"type":"tick","orient":"horizontal","size":9,"thickness":1,"color":"#111","opacity":1}},
{"data":{"values":[{"t":0,"t2":100,"v":-5,"v2":5}]},"mark":{"type":"rect","fillOpacity":0,"stroke":"#000","strokeWidth":2},"encoding":{"x2":{"field":"t2"},"y2":{"field":"v2"}}},
{"data":{"name":"edges"},"mark":{"type":"rule","color":"#9a9a9a","strokeWidth":1},"encoding":{"y2":{"field":"v2"}}},
{"data":{"name":"flt"},"mark":{"type":"line","color":"#111","strokeWidth":1},"encoding":{"detail":{"field":"g","type":"nominal"}}},
{"data":{"name":"vin"},"mark":{"type":"line","color":"#111","strokeWidth":1},"encoding":{}},
{"data":{"name":"vout"},"mark":{"type":"line","color":"#111","strokeWidth":1},"encoding":{}},
{"data":{"name":"boxes"},"transform":[{"filter":"datum.k == 'panel'"}],"mark":{"type":"rect","fill":"white","stroke":"#666","strokeWidth":1,"cornerRadius":3},"encoding":{"x2":{"field":"t2"},"y2":{"field":"v2"}}},
{"data":{"name":"boxes"},"transform":[{"filter":"datum.k == 'trig'"}],"mark":{"type":"rect","fill":"white","stroke":"#aaa","strokeWidth":0.8,"cornerRadius":2},"encoding":{"x2":{"field":"t2"},"y2":{"field":"v2"}}},
{"data":{"name":"boxes"},"transform":[{"filter":"datum.k == 'badge'"}],"mark":{"type":"rect","fill":"white","stroke":"#333","strokeWidth":0.8,"cornerRadius":3},"encoding":{"x2":{"field":"t2"},"y2":{"field":"v2"}}},
{"data":{"name":"boxes"},"transform":[{"filter":"datum.k == 'btn'"}],"mark":{"type":"rect","fill":"white","stroke":"#555","strokeWidth":1},"encoding":{"x2":{"field":"t2"},"y2":{"field":"v2"}}},
{"data":{"name":"labels"},"transform":[{"filter":"datum.k == 'm'"}],"mark":{"type":"text","fontSize":5.5,"fill":"#7a7a7a","align":"center","baseline":"middle"},"encoding":{"text":{"field":"s"}}},
{"data":{"name":"labels"},"transform":[{"filter":"datum.k == 'sep'"}],"mark":{"type":"text","fontSize":8,"fill":"#555555","align":"center","baseline":"middle"},"encoding":{"text":{"field":"s"}}},
{"data":{"name":"labels"},"transform":[{"filter":"datum.k == 'btn'"}],"mark":{"type":"text","fontSize":7,"fill":"#333333","align":"center","baseline":"middle"},"encoding":{"text":{"field":"s"}}},
{"data":{"name":"labels"},"transform":[{"filter":"datum.k == 'tek'"}],"mark":{"type":"text","fontSize":7,"fill":"#9a9a9a","align":"center","baseline":"middle"},"encoding":{"text":{"field":"s"}}},
{"data":{"name":"labels"},"transform":[{"filter":"datum.k == 'tr'"}],"mark":{"type":"text","fontSize":5,"fill":"#222222","align":"left","baseline":"middle"},"encoding":{"text":{"field":"s"}}},
{"data":{"name":"labels"},"transform":[{"filter":"datum.k == 'b'"}],"mark":{"type":"text","fontSize":5.5,"fill":"#333333","align":"center","baseline":"middle"},"encoding":{"text":{"field":"s"}}},
{"data":{"name":"labels"},"transform":[{"filter":"datum.k == 'pl'"}],"mark":{"type":"text","fontSize":6.5,"fill":"#333333","align":"left","baseline":"middle"},"encoding":{"text":{"field":"s"}}},
{"data":{"name":"labels"},"transform":[{"filter":"datum.k == 'pr'"}],"mark":{"type":"text","fontSize":6.5,"fill":"#333333","align":"right","baseline":"middle"},"encoding":{"text":{"field":"s"}}},
{"data":{"name":"labels"},"transform":[{"filter":"datum.k == 'red'"}],"mark":{"type":"text","fontSize":6.5,"fill":"#d42020","align":"left","baseline":"middle"},"encoding":{"text":{"field":"s"}}},
{"data":{"name":"pts"},"transform":[{"filter":"datum.k == 'ch'"}],"mark":{"type":"point","shape":"circle","size":100,"filled":true,"fill":"white","stroke":"#000","strokeWidth":2.5,"opacity":1}},
{"data":{"name":"pts"},"transform":[{"filter":"datum.k == 'trigpos'"}],"mark":{"type":"point","shape":"triangle-down","size":30,"filled":true,"fill":"#000","opacity":1}},
{"data":{"name":"pts"},"transform":[{"filter":"datum.k == 'triglvl'"}],"mark":{"type":"point","shape":"triangle-left","size":18,"filled":true,"fill":"#000","opacity":1}}
]
}
